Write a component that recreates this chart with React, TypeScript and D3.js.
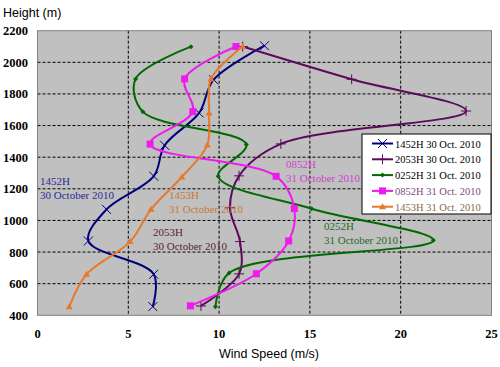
import * as React from 'react';
import * as d3 from 'd3';

// heights (m) of the sounding levels
const heights1452 = [455, 660, 870, 1070, 1280, 1475, 1680, 1890, 2105];
const speeds1452 = [6.35, 6.4, 2.8, 3.8, 6.4, 7.0, 8.9, 9.7, 12.5];

const heights2053 = [459, 662, 866, 1080, 1282, 1484, 1692, 1893, 2100];
const speeds2053 = [9.0, 11.1, 11.15, 10.6, 11.1, 13.4, 23.6, 17.3, 11.3];

const heights0252 = [454, 667, 874, 1074, 1280, 1480, 1688, 1895, 2099];
const speeds0252 = [9.8, 10.55, 21.8, 15.1, 9.95, 11.5, 5.8, 5.4, 8.45];

const heights0852 = [460, 663, 870, 1075, 1279, 1483, 1688, 1895, 2100];
const speeds0852 = [8.42, 12.05, 13.83, 14.14, 13.14, 6.2, 8.55, 8.1, 10.93];

const heights1453 = [454, 659, 866, 1070, 1275, 1477, 1680, 1895, 2100];
const speeds1453 = [1.75, 2.7, 5.1, 6.25, 7.95, 9.35, 9.45, 9.55, 11.3];

const xTicks = [0, 5, 10, 15, 20, 25];
const yTicks = [400, 600, 800, 1000, 1200, 1400, 1600, 1800, 2000, 2200];

const seriesNames = ['1452H 30 Oct. 2010', '2053H 30 Oct. 2010', '0252H 31 Oct. 2010', '0852H 31 Oct. 2010', '1453H 31 Oct. 2010'];
const noteLines = [
	['1452H', '30 October 2010'],
	['1453H', '31 October 2010'],
	['2053H', '30 October 2010'],
	['0852H', '31 October 2010'],
	['0252H', '31 October 2010'],
];

type Series = { name: string; h: number[]; v: number[]; color: string; text: string; marker: string };

const series: Series[] = [
	{ name: seriesNames[0], h: heights1452, v: speeds1452, color: '#00007f', text: '#000000', marker: 'x' },
	{ name: seriesNames[1], h: heights2053, v: speeds2053, color: '#5c0a5c', text: '#000000', marker: 'plus' },
	{ name: seriesNames[2], h: heights0252, v: speeds0252, color: '#006a00', text: '#000000', marker: 'dot' },
	{ name: seriesNames[3], h: heights0852, v: speeds0852, color: '#ee1aee', text: '#7a4a80', marker: 'square' },
	{ name: seriesNames[4], h: heights1453, v: speeds1453, color: '#e8782a', text: '#8a6a48', marker: 'tri' },
];

const W = 500;
const H = 367;
const left = 37.5;
const right = 491.5;
const top = 30.7;
const bottom = 315.3;

const serif = '"Liberation Serif", "Times New Roman", serif';
const sans = '"Liberation Sans", Arial, sans-serif';

function Marker({ kind, x, y, color }: { kind: string; x: number; y: number; color: string }) {
	if (kind === 'x') {
		const s = 4.5;
		return <path d={`M${x - s},${y - s}L${x + s},${y + s}M${x - s},${y + s}L${x + s},${y - s}`} stroke={color} strokeWidth={1} />;
	}
	if (kind === 'plus') {
		const s = 5;
		return <path d={`M${x - s},${y}L${x + s},${y}M${x},${y - s}L${x},${y + s}`} stroke={color} strokeWidth={1} />;
	}
	if (kind === 'dot') {
		return <path d={`M${x},${y - 2.5}L${x + 2.5},${y}L${x},${y + 2.5}L${x - 2.5},${y}Z`} fill={color} />;
	}
	if (kind === 'square') {
		return <rect x={x - 3.5} y={y - 3.5} width={7} height={7} fill={color} />;
	}
	return <path d={`M${x},${y - 3.5}L${x + 3.5},${y + 2.5}L${x - 3.5},${y + 2.5}Z`} fill={color} />;
}

export default function App() {
	const x = d3.scaleLinear().domain([0, 25]).range([left, right]);
	const y = d3.scaleLinear().domain([400, 2200]).range([bottom, top]);
	const line = d3
		.line<[number, number]>()
		.x((d) => x(d[0]))
		.y((d) => y(d[1]))
		.curve(d3.curveCatmullRom.alpha(0.5));

	const legX = 362;
	const legY = 134;
	const notePos = [
		{ x: 40, y: 185, c: '#2a2a9a' },
		{ x: 169, y: 199, c: '#c87838' },
		{ x: 153, y: 236, c: '#5a2040' },
		{ x: 286, y: 168, c: '#d040d0' },
		{ x: 324, y: 230, c: '#2a6a2a' },
	];

	return (
		<svg width={W} height={H} style={{ display: 'block', position: 'absolute', left: 0, top: 0 }}>
			<rect width={W} height={H} fill="#fff" />
			<rect x={left} y={top} width={right - left} height={bottom - top} fill="#c0c0c0" />
			{xTicks.slice(1, -1).map((t) => (
				<line key={'gx' + t} x1={x(t)} x2={x(t)} y1={top} y2={bottom} stroke="#000" strokeWidth={1} strokeDasharray="3,2" />
			))}
			{yTicks.slice(1, -1).map((t) => (
				<line key={'gy' + t} x1={left} x2={right} y1={y(t)} y2={y(t)} stroke="#000" strokeWidth={1} strokeDasharray="3,2" />
			))}
			<rect x={left} y={top} width={right - left} height={bottom - top} fill="none" stroke="#808080" strokeWidth={1} />
			{yTicks.map((t) => (
				<text key={'ty' + t} x={28} y={y(t) + 4.5} textAnchor="end" fontFamily={serif} fontWeight="bold" fontSize={12.5}>
					{t}
				</text>
			))}
			{xTicks.map((t) => (
				<text key={'tx' + t} x={x(t)} y={338} textAnchor="middle" fontFamily={serif} fontWeight="bold" fontSize={12.5}>
					{t}
				</text>
			))}
			<text x={3} y={17} fontFamily={sans} fontSize={12.5}>
				Height (m)
			</text>
			<text x={269} y={358} textAnchor="middle" fontFamily={sans} fontSize={12.5}>
				Wind Speed (m/s)
			</text>
			{series.map((s) => {
				const pts = s.v.map((v, i) => [v, s.h[i]] as [number, number]);
				return (
					<g key={s.name}>
						<path d={line(pts) || ''} fill="none" stroke={s.color} strokeWidth={2} />
						{pts.map((p, i) => (
							<Marker key={i} kind={s.marker} x={x(p[0])} y={y(p[1])} color={s.color} />
						))}
					</g>
				);
			})}
			{noteLines.map((n, i) => (
				<g key={'n' + i} fontFamily={serif} fontSize={11} fill={notePos[i].c}>
					<text x={notePos[i].x} y={notePos[i].y}>{n[0]}</text>
					<text x={notePos[i].x} y={notePos[i].y + 13.5}>{n[1]}</text>
				</g>
			))}
			<rect x={legX} y={legY} width={right - legX - 0.5} height={80} fill="#fff" stroke="#000" strokeWidth={1} />
			{series.map((s, i) => {
				const cy = legY + 9.5 + i * 15.8;
				return (
					<g key={'l' + i}>
						<line x1={372} x2={393} y1={cy} y2={cy} stroke={s.color} strokeWidth={2} />
						<Marker kind={s.marker} x={382.5} y={cy} color={s.color} />
						<text x={395} y={cy + 4} fontFamily={serif} fontSize={10.5} fill={s.text}>
							{s.name}
						</text>
					</g>
				);
			})}
		</svg>
	);
}
